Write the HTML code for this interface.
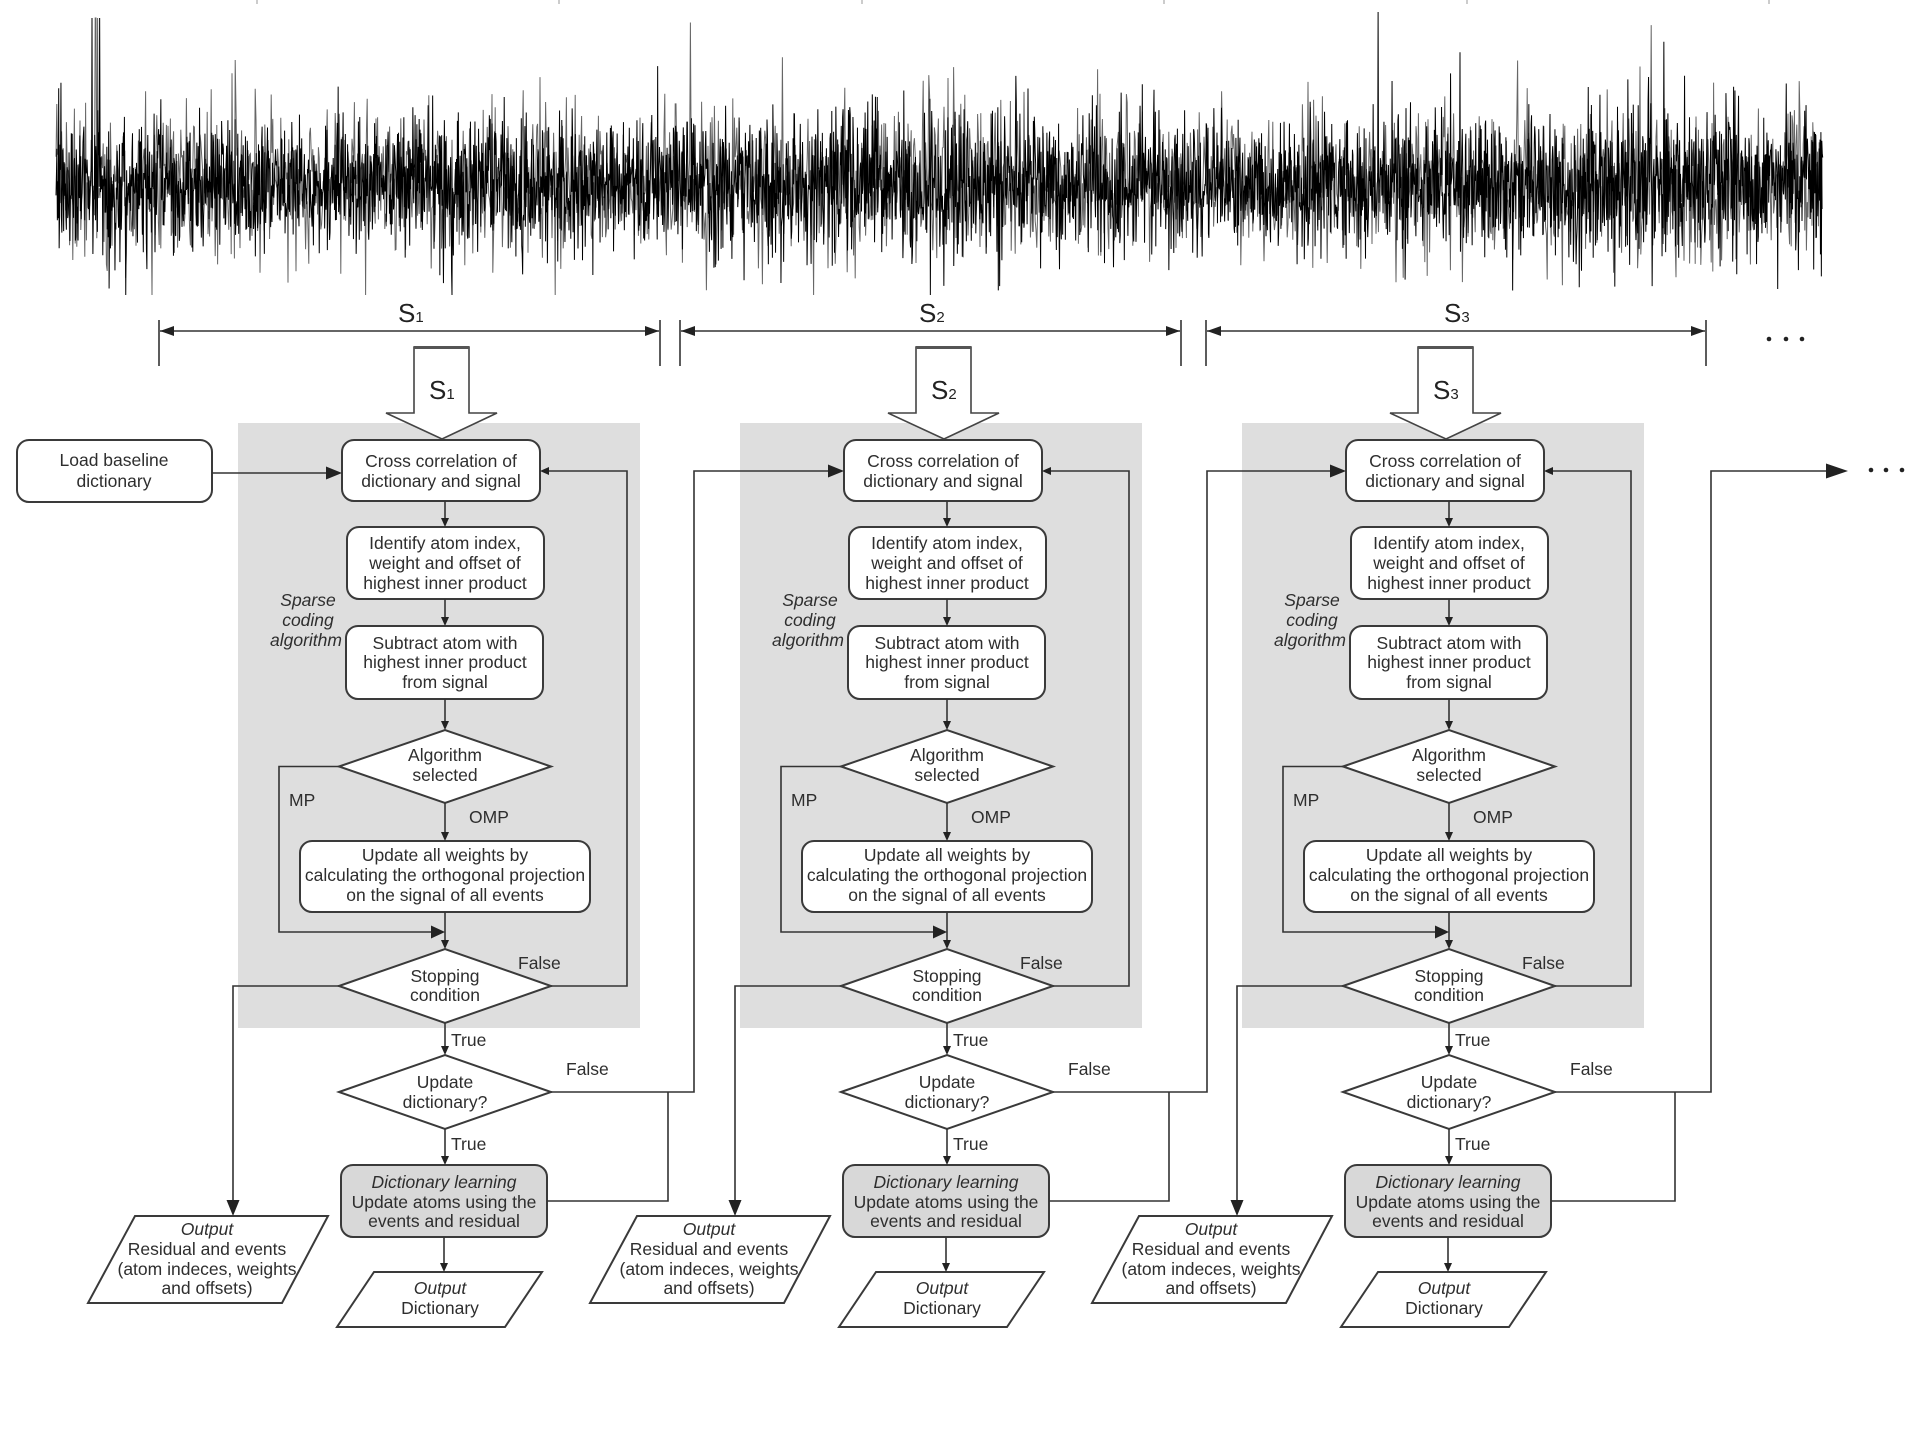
<!DOCTYPE html>
<html>
<head>
<meta charset="utf-8">
<style>
  html,body{margin:0;padding:0;background:#fff;}
  body{width:1924px;height:1437px;overflow:hidden;}
  svg{display:block;}
  .t{font-family:"Liberation Sans",Arial,sans-serif;font-size:17.5px;fill:#2e2e2e;text-anchor:middle;}
  .i{font-style:italic;}
  .l{font-family:"Liberation Sans",Arial,sans-serif;font-size:17.5px;fill:#2e2e2e;}
  .big{font-family:"Liberation Sans",Arial,sans-serif;font-size:26px;fill:#222;}
  .box{fill:#fff;stroke:#3a3a3a;stroke-width:2;}
  .ln{fill:none;stroke:#333;stroke-width:1.6;}
  .ah{fill:#222;stroke:none;}
</style>
</head>
<body>
<svg width="1924" height="1437" viewBox="0 0 1924 1437" xmlns="http://www.w3.org/2000/svg">
  <!-- top ticks -->
  <g stroke="#999" stroke-width="1">
    <line x1="257" y1="0" x2="257" y2="4"/><line x1="559" y1="0" x2="559" y2="4"/>
    <line x1="862" y1="0" x2="862" y2="4"/><line x1="1164" y1="0" x2="1164" y2="4"/>
    <line x1="1467" y1="0" x2="1467" y2="4"/><line x1="1769" y1="0" x2="1769" y2="4"/>
  </g>
  <!-- signal -->
  <g id="sig"></g>

  <!-- segment double arrows -->
  <g class="ln">
    <line x1="159" y1="320" x2="159" y2="366"/><line x1="660" y1="320" x2="660" y2="366"/>
    <line x1="160" y1="331" x2="659" y2="331"/>
    <line x1="680" y1="320" x2="680" y2="366"/><line x1="1181" y1="320" x2="1181" y2="366"/>
    <line x1="681" y1="331" x2="1180" y2="331"/>
    <line x1="1206" y1="320" x2="1206" y2="366"/><line x1="1706" y1="320" x2="1706" y2="366"/>
    <line x1="1207" y1="331" x2="1705" y2="331"/>
  </g>
  <g class="ah">
    <polygon points="160,331 174,326 174,336"/><polygon points="659,331 645,326 645,336"/>
    <polygon points="681,331 695,326 695,336"/><polygon points="1180,331 1166,326 1166,336"/>
    <polygon points="1207,331 1221,326 1221,336"/><polygon points="1705,331 1691,326 1691,336"/>
  </g>
  <text class="big" x="398" y="322">S<tspan font-size="15">1</tspan></text>
  <text class="big" x="919" y="322">S<tspan font-size="15">2</tspan></text>
  <text class="big" x="1444" y="322">S<tspan font-size="15">3</tspan></text>
  <g fill="#222">
    <circle cx="1769" cy="339" r="2.3"/><circle cx="1786" cy="339" r="2.3"/><circle cx="1802" cy="339" r="2.3"/>
    <circle cx="1871" cy="470" r="2.3"/><circle cx="1886" cy="470" r="2.3"/><circle cx="1902" cy="470" r="2.3"/>
  </g>

  <!-- ===== Column 1 ===== -->
  <g>
    <rect x="238" y="423" width="402" height="605" fill="#dedede"/>
    <polygon points="414,347 469,347 469,413 497,413 442,439 386,413 414,413" fill="#fff" stroke="#444" stroke-width="1.6"/>
    <line x1="414" y1="347.5" x2="469" y2="347.5" stroke="#555" stroke-width="3"/>
    <text class="big" x="429" y="399">S<tspan font-size="15">1</tspan></text>

    <rect class="box" x="342" y="440" width="198" height="61" rx="12"/>
    <text class="t" x="441" y="467">Cross correlation of</text>
    <text class="t" x="441" y="487">dictionary and signal</text>

    <rect class="box" x="347" y="527" width="197" height="72" rx="12"/>
    <text class="t" x="445" y="549">Identify atom index,</text>
    <text class="t" x="445" y="569">weight and offset of</text>
    <text class="t" x="445" y="589">highest inner product</text>

    <text class="t i" x="308" y="606">Sparse</text>
    <text class="t i" x="308" y="626">coding</text>
    <text class="t i" x="306" y="646">algorithm</text>

    <rect class="box" x="346" y="626" width="197" height="73" rx="12"/>
    <text class="t" x="445" y="649">Subtract atom with</text>
    <text class="t" x="445" y="668">highest inner product</text>
    <text class="t" x="445" y="688">from signal</text>

    <polygon class="box" points="339,766.5 445,730 551,766.5 445,803"/>
    <text class="t" x="445" y="761">Algorithm</text>
    <text class="t" x="445" y="781">selected</text>

    <rect class="box" x="300" y="841" width="290" height="71" rx="12"/>
    <text class="t" x="445" y="861">Update all weights by</text>
    <text class="t" x="445" y="881">calculating the orthogonal projection</text>
    <text class="t" x="445" y="901">on the signal of all events</text>

    <polygon class="box" points="339,986 445,949 551,986 445,1023"/>
    <text class="t" x="445" y="982">Stopping</text>
    <text class="t" x="445" y="1001">condition</text>

    <polygon class="box" points="339,1092 445,1055 551,1092 445,1129"/>
    <text class="t" x="445" y="1088">Update</text>
    <text class="t" x="445" y="1108">dictionary?</text>

    <rect x="341" y="1165" width="206" height="72" rx="12" fill="#d8d8d8" stroke="#3a3a3a" stroke-width="2"/>
    <text class="t i" x="444" y="1188">Dictionary learning</text>
    <text class="t" x="444" y="1208">Update atoms using the</text>
    <text class="t" x="444" y="1227">events and residual</text>

    <polygon class="box" points="374,1272 542,1272 505,1327 337,1327"/>
    <text class="t i" x="440" y="1294">Output</text>
    <text class="t" x="440" y="1314">Dictionary</text>

    <polygon class="box" points="135,1216 328,1216 282,1303 88,1303"/>
    <text class="t i" x="207" y="1235">Output</text>
    <text class="t" x="207" y="1255">Residual and events</text>
    <text class="t" x="207" y="1275">(atom indeces, weights</text>
    <text class="t" x="207" y="1294">and offsets)</text>

    <!-- connectors -->
    <g class="ln">
      <line x1="445" y1="501" x2="445" y2="520"/>
      <line x1="445" y1="599" x2="445" y2="619"/>
      <line x1="445" y1="699" x2="445" y2="723"/>
      <line x1="445" y1="803" x2="445" y2="834"/>
      <line x1="445" y1="912" x2="445" y2="942"/>
      <polyline points="339,766.5 279,766.5 279,932 433,932"/>
      <polyline points="551,986 627,986 627,471 548,471"/>
      <polyline points="339,986 233,986 233,1203"/>
      <line x1="445" y1="1023" x2="445" y2="1048"/>
      <line x1="445" y1="1129" x2="445" y2="1158"/>
      <line x1="444" y1="1237" x2="444" y2="1265"/>
      <polyline points="547,1201 668,1201 668,1092"/>
    </g>
    <g class="ah">
      <polygon points="445,527 441,518 449,518"/>
      <polygon points="445,626 441,617 449,617"/>
      <polygon points="445,730 441,721 449,721"/>
      <polygon points="445,841 441,832 449,832"/>
      <polygon points="445,949 441,940 449,940"/>
      <polygon points="445,932 431,925.5 431,938.5"/>
      <polygon points="540,471 549,467 549,475"/>
      <polygon points="233,1216 226.5,1200 239.5,1200"/>
      <polygon points="445,1055 441,1046 449,1046"/>
      <polygon points="445,1165 441,1156 449,1156"/>
      <polygon points="444,1272 440,1263 448,1263"/>
    </g>
    <text class="l" x="289" y="806">MP</text>
    <text class="l" x="469" y="823">OMP</text>
    <text class="l" x="518" y="969">False</text>
    <text class="l" x="451" y="1046">True</text>
    <text class="l" x="451" y="1150">True</text>
    <text class="l" x="566" y="1075">False</text>
  </g>

  <!-- Load baseline dictionary (drawn after gray panel) -->
  <rect class="box" x="17" y="440" width="195" height="62" rx="12"/>
  <text class="t" x="114" y="466">Load baseline</text>
  <text class="t" x="114" y="487">dictionary</text>
  <line class="ln" x1="212" y1="473" x2="330" y2="473"/>
  <polygon class="ah" points="342,473 326,466.5 326,479.5"/>

  <!-- ===== Column 2 ===== -->
  <g transform="translate(502,0)">
    <rect x="238" y="423" width="402" height="605" fill="#dedede"/>
    <polygon points="414,347 469,347 469,413 497,413 442,439 386,413 414,413" fill="#fff" stroke="#444" stroke-width="1.6"/>
    <line x1="414" y1="347.5" x2="469" y2="347.5" stroke="#555" stroke-width="3"/>
    <text class="big" x="429" y="399">S<tspan font-size="15">2</tspan></text>

    <rect class="box" x="342" y="440" width="198" height="61" rx="12"/>
    <text class="t" x="441" y="467">Cross correlation of</text>
    <text class="t" x="441" y="487">dictionary and signal</text>

    <rect class="box" x="347" y="527" width="197" height="72" rx="12"/>
    <text class="t" x="445" y="549">Identify atom index,</text>
    <text class="t" x="445" y="569">weight and offset of</text>
    <text class="t" x="445" y="589">highest inner product</text>

    <text class="t i" x="308" y="606">Sparse</text>
    <text class="t i" x="308" y="626">coding</text>
    <text class="t i" x="306" y="646">algorithm</text>

    <rect class="box" x="346" y="626" width="197" height="73" rx="12"/>
    <text class="t" x="445" y="649">Subtract atom with</text>
    <text class="t" x="445" y="668">highest inner product</text>
    <text class="t" x="445" y="688">from signal</text>

    <polygon class="box" points="339,766.5 445,730 551,766.5 445,803"/>
    <text class="t" x="445" y="761">Algorithm</text>
    <text class="t" x="445" y="781">selected</text>

    <rect class="box" x="300" y="841" width="290" height="71" rx="12"/>
    <text class="t" x="445" y="861">Update all weights by</text>
    <text class="t" x="445" y="881">calculating the orthogonal projection</text>
    <text class="t" x="445" y="901">on the signal of all events</text>

    <polygon class="box" points="339,986 445,949 551,986 445,1023"/>
    <text class="t" x="445" y="982">Stopping</text>
    <text class="t" x="445" y="1001">condition</text>

    <polygon class="box" points="339,1092 445,1055 551,1092 445,1129"/>
    <text class="t" x="445" y="1088">Update</text>
    <text class="t" x="445" y="1108">dictionary?</text>

    <rect x="341" y="1165" width="206" height="72" rx="12" fill="#d8d8d8" stroke="#3a3a3a" stroke-width="2"/>
    <text class="t i" x="444" y="1188">Dictionary learning</text>
    <text class="t" x="444" y="1208">Update atoms using the</text>
    <text class="t" x="444" y="1227">events and residual</text>

    <polygon class="box" points="374,1272 542,1272 505,1327 337,1327"/>
    <text class="t i" x="440" y="1294">Output</text>
    <text class="t" x="440" y="1314">Dictionary</text>

    <polygon class="box" points="135,1216 328,1216 282,1303 88,1303"/>
    <text class="t i" x="207" y="1235">Output</text>
    <text class="t" x="207" y="1255">Residual and events</text>
    <text class="t" x="207" y="1275">(atom indeces, weights</text>
    <text class="t" x="207" y="1294">and offsets)</text>

    <g class="ln">
      <line x1="445" y1="501" x2="445" y2="520"/>
      <line x1="445" y1="599" x2="445" y2="619"/>
      <line x1="445" y1="699" x2="445" y2="723"/>
      <line x1="445" y1="803" x2="445" y2="834"/>
      <line x1="445" y1="912" x2="445" y2="942"/>
      <polyline points="339,766.5 279,766.5 279,932 433,932"/>
      <polyline points="551,986 627,986 627,471 548,471"/>
      <polyline points="339,986 233,986 233,1203"/>
      <line x1="445" y1="1023" x2="445" y2="1048"/>
      <line x1="445" y1="1129" x2="445" y2="1158"/>
      <line x1="444" y1="1237" x2="444" y2="1265"/>
      <polyline points="547,1201 667,1201 667,1092"/>
    </g>
    <g class="ah">
      <polygon points="445,527 441,518 449,518"/>
      <polygon points="445,626 441,617 449,617"/>
      <polygon points="445,730 441,721 449,721"/>
      <polygon points="445,841 441,832 449,832"/>
      <polygon points="445,949 441,940 449,940"/>
      <polygon points="445,932 431,925.5 431,938.5"/>
      <polygon points="540,471 549,467 549,475"/>
      <polygon points="233,1216 226.5,1200 239.5,1200"/>
      <polygon points="445,1055 441,1046 449,1046"/>
      <polygon points="445,1165 441,1156 449,1156"/>
      <polygon points="444,1272 440,1263 448,1263"/>
    </g>
    <text class="l" x="289" y="806">MP</text>
    <text class="l" x="469" y="823">OMP</text>
    <text class="l" x="518" y="969">False</text>
    <text class="l" x="451" y="1046">True</text>
    <text class="l" x="451" y="1150">True</text>
  </g>

  <!-- ===== Column 3 ===== -->
  <g transform="translate(1004,0)">
    <rect x="238" y="423" width="402" height="605" fill="#dedede"/>
    <polygon points="414,347 469,347 469,413 497,413 442,439 386,413 414,413" fill="#fff" stroke="#444" stroke-width="1.6"/>
    <line x1="414" y1="347.5" x2="469" y2="347.5" stroke="#555" stroke-width="3"/>
    <text class="big" x="429" y="399">S<tspan font-size="15">3</tspan></text>

    <rect class="box" x="342" y="440" width="198" height="61" rx="12"/>
    <text class="t" x="441" y="467">Cross correlation of</text>
    <text class="t" x="441" y="487">dictionary and signal</text>

    <rect class="box" x="347" y="527" width="197" height="72" rx="12"/>
    <text class="t" x="445" y="549">Identify atom index,</text>
    <text class="t" x="445" y="569">weight and offset of</text>
    <text class="t" x="445" y="589">highest inner product</text>

    <text class="t i" x="308" y="606">Sparse</text>
    <text class="t i" x="308" y="626">coding</text>
    <text class="t i" x="306" y="646">algorithm</text>

    <rect class="box" x="346" y="626" width="197" height="73" rx="12"/>
    <text class="t" x="445" y="649">Subtract atom with</text>
    <text class="t" x="445" y="668">highest inner product</text>
    <text class="t" x="445" y="688">from signal</text>

    <polygon class="box" points="339,766.5 445,730 551,766.5 445,803"/>
    <text class="t" x="445" y="761">Algorithm</text>
    <text class="t" x="445" y="781">selected</text>

    <rect class="box" x="300" y="841" width="290" height="71" rx="12"/>
    <text class="t" x="445" y="861">Update all weights by</text>
    <text class="t" x="445" y="881">calculating the orthogonal projection</text>
    <text class="t" x="445" y="901">on the signal of all events</text>

    <polygon class="box" points="339,986 445,949 551,986 445,1023"/>
    <text class="t" x="445" y="982">Stopping</text>
    <text class="t" x="445" y="1001">condition</text>

    <polygon class="box" points="339,1092 445,1055 551,1092 445,1129"/>
    <text class="t" x="445" y="1088">Update</text>
    <text class="t" x="445" y="1108">dictionary?</text>

    <rect x="341" y="1165" width="206" height="72" rx="12" fill="#d8d8d8" stroke="#3a3a3a" stroke-width="2"/>
    <text class="t i" x="444" y="1188">Dictionary learning</text>
    <text class="t" x="444" y="1208">Update atoms using the</text>
    <text class="t" x="444" y="1227">events and residual</text>

    <polygon class="box" points="374,1272 542,1272 505,1327 337,1327"/>
    <text class="t i" x="440" y="1294">Output</text>
    <text class="t" x="440" y="1314">Dictionary</text>

    <polygon class="box" points="135,1216 328,1216 282,1303 88,1303"/>
    <text class="t i" x="207" y="1235">Output</text>
    <text class="t" x="207" y="1255">Residual and events</text>
    <text class="t" x="207" y="1275">(atom indeces, weights</text>
    <text class="t" x="207" y="1294">and offsets)</text>

    <g class="ln">
      <line x1="445" y1="501" x2="445" y2="520"/>
      <line x1="445" y1="599" x2="445" y2="619"/>
      <line x1="445" y1="699" x2="445" y2="723"/>
      <line x1="445" y1="803" x2="445" y2="834"/>
      <line x1="445" y1="912" x2="445" y2="942"/>
      <polyline points="339,766.5 279,766.5 279,932 433,932"/>
      <polyline points="551,986 627,986 627,471 548,471"/>
      <polyline points="339,986 233,986 233,1203"/>
      <line x1="445" y1="1023" x2="445" y2="1048"/>
      <line x1="445" y1="1129" x2="445" y2="1158"/>
      <line x1="444" y1="1237" x2="444" y2="1265"/>
      <polyline points="547,1201 671,1201 671,1092"/>
    </g>
    <g class="ah">
      <polygon points="445,527 441,518 449,518"/>
      <polygon points="445,626 441,617 449,617"/>
      <polygon points="445,730 441,721 449,721"/>
      <polygon points="445,841 441,832 449,832"/>
      <polygon points="445,949 441,940 449,940"/>
      <polygon points="445,932 431,925.5 431,938.5"/>
      <polygon points="540,471 549,467 549,475"/>
      <polygon points="233,1216 226.5,1200 239.5,1200"/>
      <polygon points="445,1055 441,1046 449,1046"/>
      <polygon points="445,1165 441,1156 449,1156"/>
      <polygon points="444,1272 440,1263 448,1263"/>
    </g>
    <text class="l" x="289" y="806">MP</text>
    <text class="l" x="469" y="823">OMP</text>
    <text class="l" x="518" y="969">False</text>
    <text class="l" x="451" y="1046">True</text>
    <text class="l" x="451" y="1150">True</text>
  </g>

  <!-- inter-column False connectors -->
  <g class="ln">
    <polyline points="551,1092 694,1092 694,471 830,471"/>
    <polyline points="1053,1092 1207,1092 1207,471 1332,471"/>
    <polyline points="1555,1092 1711,1092 1711,471 1833,471"/>
  </g>
  <g class="ah">
    <polygon points="844,471 828,464.5 828,477.5"/>
    <polygon points="1346,471 1330,464.5 1330,477.5"/>
    <polygon points="1848,471 1826,463.5 1826,478.5"/>
  </g>
  <text class="l" x="1068" y="1075">False</text>
  <text class="l" x="1570" y="1075">False</text>
</svg>
<script>
(function(){
  var s = 987654321;
  function r(){ s = (s + 0x6D2B79F5) | 0; var t = Math.imul(s ^ (s >>> 15), 1 | s); t = (t + Math.imul(t ^ (t >>> 7), 61 | t)) ^ t; return ((t ^ (t >>> 14)) >>> 0) / 4294967296; }
  function g(){ var u = r() || 1e-9, v = r(); return Math.sqrt(-2 * Math.log(u)) * Math.cos(2 * Math.PI * v); }
  var cp = [[56,36],[300,32],[600,33],[750,38],[1000,38],[1150,33],[1350,33],[1500,36],[1650,40],[1823,39]];
  function sig(x){ for (var i = 1; i < cp.length; i++){ if (x <= cp[i][0]){ var a = cp[i-1], b = cp[i]; return a[1] + (b[1]-a[1]) * (x-a[0]) / (b[0]-a[0]); } } return 38; }
  var ns = 'http://www.w3.org/2000/svg';
  var host = document.getElementById('sig');
  function make(step, color, width, seedAdd, scale){
    s = 987654321 + seedAdd;
    var d = '', x = 56, first = true;
    while (x <= 1823){
      var k = g(); if (r() < 0.05) k *= 1.6;
      var y = 184 + k * sig(x) * scale;
      if (x > 92 && x < 100 && r() < 0.3) y = 18;
      if (y < 12) y = 12; if (y > 295) y = 295;
      d += (first ? 'M' : 'L') + x.toFixed(2) + ' ' + y.toFixed(1);
      first = false; x += step;
    }
    var p = document.createElementNS(ns, 'path');
    p.setAttribute('d', d); p.setAttribute('fill', 'none');
    p.setAttribute('stroke', color); p.setAttribute('stroke-width', width);
    host.appendChild(p);
  }
  make(0.8, '#666', '1', 17, 1.05);
  make(0.45, '#000', '1', 0, 0.95);
})();
</script>
</body>
</html>
